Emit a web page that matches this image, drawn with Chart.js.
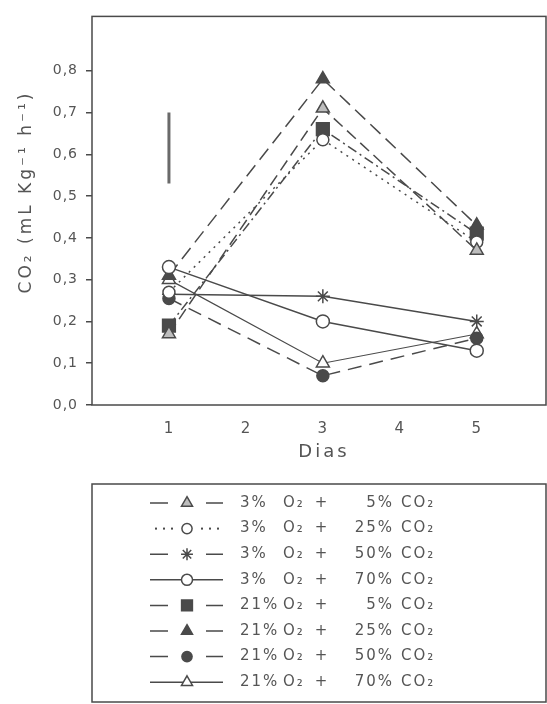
<!DOCTYPE html>
<html>
<head>
<meta charset="utf-8">
<script src="https://cdn.jsdelivr.net/npm/chart.js@4.4.1/dist/chart.umd.min.js"></script>
<style>
  html, body { margin: 0; padding: 0; background: #fff; }
  #wrap { width: 547px; height: 704px; position: relative; }
</style>
</head>
<body>
<div id="wrap"><canvas id="chart"></canvas></div>
<script>
// CO2 production per treatment, days 1 / 3 / 5
const days = [1, 3, 5];
const xTicks = [1, 2, 3, 4, 5];
const yTicks = [0, 0.1, 0.2, 0.3, 0.4, 0.5, 0.6, 0.7, 0.8];

const o2Labels = ['3%', '3%', '3%', '3%', '21%', '21%', '21%', '21%'];
const co2Labels = ['5%', '25%', '50%', '70%', '5%', '25%', '50%', '70%'];

const s3o2_5co2 = [0.17, 0.71, 0.37];
const s3o2_25co2 = [0.27, 0.635, 0.39];
const s3o2_50co2 = [0.265, 0.26, 0.20];
const s3o2_70co2 = [0.33, 0.20, 0.13];
const s21o2_5co2 = [0.19, 0.66, 0.41];
const s21o2_25co2 = [0.31, 0.78, 0.43];
const s21o2_50co2 = [0.255, 0.07, 0.16];
const s21o2_70co2 = [0.30, 0.10, 0.17];

// vertical bar drawn at day 1 (LSD)
const barX = [1, 1];
const barY = [0.53, 0.70];

const INK = '#4a4a4a';
const TEXT = '#555';

// line style per series: dash pattern, marker, marker fill, size, legend kind
const styles = [
  { dash: [12, 6], point: 'triangle', fill: '#bdbdbd', r: 7.5, kind: 'dash' },
  { dash: [2, 5], point: 'circle', fill: '#fff', r: 6, kind: 'dot' },
  { dash: [], point: 'star', fill: '#fff', r: 7, kind: 'dash' },
  { dash: [], point: 'circle', fill: '#fff', r: 6.5, kind: 'solid' },
  { dash: [10, 4, 2, 4], point: 'rect', fill: INK, r: 9, kind: 'dash' },
  { dash: [14, 7], point: 'triangle', fill: INK, r: 7.5, kind: 'dash' },
  { dash: [14, 8], point: 'circle', fill: INK, r: 6, kind: 'dash' },
  { dash: [], point: 'triangle', fill: '#fff', r: 7.5, kind: 'solid' }
];

const allSeries = [s3o2_5co2, s3o2_25co2, s3o2_50co2, s3o2_70co2,
  s21o2_5co2, s21o2_25co2, s21o2_50co2, s21o2_70co2];

const datasets = allSeries.map((vals, i) => ({
  label: o2Labels[i] + ' O₂ + ' + co2Labels[i] + ' CO₂',
  data: days.map((d, j) => ({ x: d, y: vals[j] })),
  borderColor: INK,
  borderWidth: i === 7 ? 1.2 : 1.5,
  borderDash: styles[i].dash,
  pointStyle: styles[i].point,
  pointRadius: styles[i].r,
  pointBackgroundColor: styles[i].fill,
  pointBorderColor: INK,
  pointBorderWidth: 1.5,
  tension: 0
}));

datasets.push({
  label: 'bar',
  data: barX.map((x, j) => ({ x: x, y: barY[j] })),
  borderColor: '#6a6a6a',
  borderWidth: 3,
  pointRadius: 0
});

function drawIcon(ctx, st, cx, cy) {
  ctx.save();
  ctx.strokeStyle = INK;
  ctx.lineWidth = 1.5;
  if (st.kind === 'solid') {
    ctx.beginPath(); ctx.moveTo(150, cy); ctx.lineTo(223, cy); ctx.stroke();
  } else if (st.kind === 'dash') {
    ctx.beginPath();
    ctx.moveTo(150, cy); ctx.lineTo(168, cy);
    ctx.moveTo(206, cy); ctx.lineTo(223, cy);
    ctx.stroke();
  } else {
    ctx.fillStyle = INK;
    [156, 164, 172, 202, 210, 218].forEach(x => ctx.fillRect(x - 1, cy - 1, 2, 2));
  }
  if (Chart.helpers && Chart.helpers.drawPoint) {
    ctx.fillStyle = st.fill;
    ctx.strokeStyle = INK;
    ctx.lineWidth = 1.5;
    ctx.setLineDash([]);
    Chart.helpers.drawPoint(ctx, { pointStyle: st.point, radius: st.r * 0.85, rotation: 0, borderWidth: 1.5 }, cx, cy);
  }
  ctx.restore();
}

const frame = {
  id: 'frame',
  beforeDraw(chart) {
    chart.ctx.letterSpacing = '1px';
  },
  afterDraw(chart) {
    const { ctx, chartArea: a } = chart;
    ctx.save();
    ctx.strokeStyle = INK;
    ctx.lineWidth = 1.5;
    ctx.setLineDash([]);
    ctx.strokeRect(a.left, a.top, a.right - a.left, a.bottom - a.top);

    // axis titles
    ctx.fillStyle = TEXT;
    ctx.textAlign = 'center';
    ctx.textBaseline = 'middle';
    ctx.letterSpacing = '3px';
    ctx.font = '18px "DejaVu Sans"';
    ctx.fillText('Dias', 324, 452);
    ctx.save();
    ctx.translate(27, 192);
    ctx.rotate(-Math.PI / 2);
    ctx.font = '17px "DejaVu Sans"';
    ctx.fillText('CO₂ (mL Kg⁻¹ h⁻¹)', 0, 0);
    ctx.restore();

    // legend box
    ctx.strokeRect(92, 484, 454, 218);
    ctx.letterSpacing = '2px';
    ctx.font = '15px "DejaVu Sans"';
    ctx.textBaseline = 'middle';
    styles.forEach((st, i) => {
      const y = 503 + i * 25.6;
      drawIcon(ctx, st, 187, y);
      ctx.fillStyle = TEXT;
      ctx.textAlign = 'left';
      ctx.fillText(o2Labels[i], 240, y);
      ctx.fillText('O₂', 283, y);
      ctx.textAlign = 'center';
      ctx.fillText('+', 322, y);
      ctx.textAlign = 'right';
      ctx.fillText(co2Labels[i], 394, y);
      ctx.textAlign = 'left';
      ctx.fillText('CO₂', 401, y);
    });
    ctx.restore();
  }
};

new Chart(document.getElementById('chart'), {
  type: 'line',
  data: { datasets: datasets },
  plugins: [frame],
  options: {
    responsive: true,
    maintainAspectRatio: false,
    animation: false,
    layout: { autoPadding: false, padding: { top: 13, right: 1, left: 0, bottom: 0 } },
    plugins: { legend: { display: false }, tooltip: { enabled: false } },
    scales: {
      x: {
        type: 'linear',
        min: 0,
        max: 5.9,
        afterFit: s => { s.height = 299; },
        afterBuildTicks: s => { s.ticks = xTicks.map(v => ({ value: v })); },
        grid: { display: false, drawTicks: false },
        border: { display: false },
        ticks: {
          color: TEXT,
          padding: 15,
          font: { family: 'DejaVu Sans', size: 15 },
          callback: v => String(v)
        }
      },
      y: {
        type: 'linear',
        min: 0,
        max: 0.93,
        afterFit: s => { s.width = 92; },
        afterBuildTicks: s => { s.ticks = yTicks.map(v => ({ value: v })); },
        grid: { drawOnChartArea: false, drawTicks: true, tickLength: 6, color: INK, lineWidth: 1.5 },
        border: { display: false },
        ticks: {
          color: TEXT,
          padding: 8,
          font: { family: 'DejaVu Sans', size: 14 },
          callback: v => v.toFixed(1).replace('.', ',')
        }
      }
    }
  }
});
</script>
</body>
</html>
